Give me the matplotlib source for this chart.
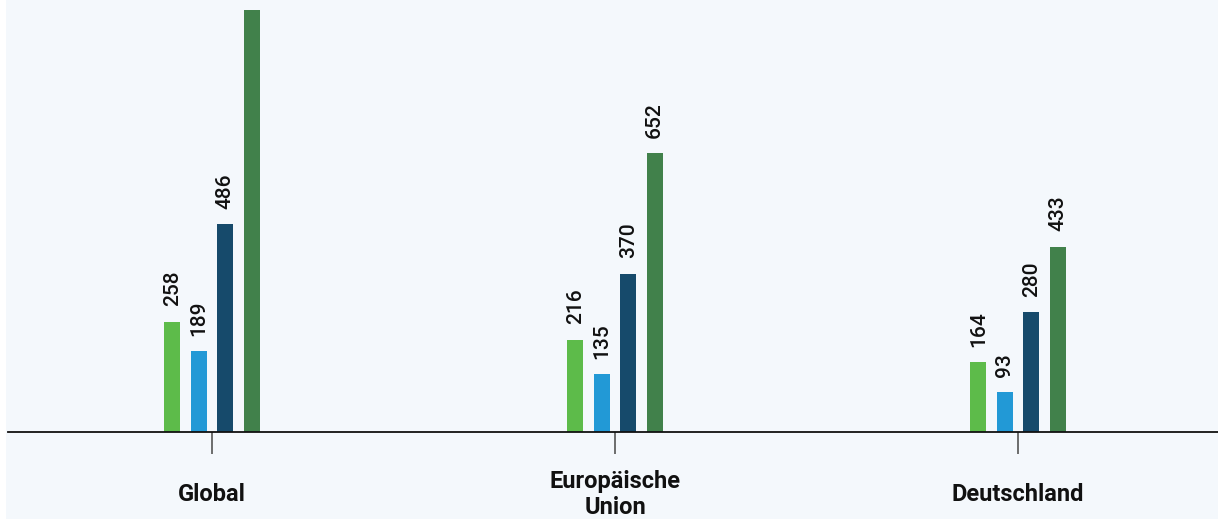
import matplotlib
matplotlib.use("Agg")
import matplotlib.pyplot as plt
import numpy as np
from matplotlib.patches import Rectangle

plt.rcParams['font.family'] = ['Roboto', 'DejaVu Sans']

categories = ["Global", "Europäische\nUnion", "Deutschland"]
series1 = [258, 216, 164]
series2 = [189, 135, 93]
series3 = [486, 370, 280]
series4 = [1000, 652, 433]   # Global value is cut off at the top of the chart
series = [series1, series2, series3, series4]
colors = ["#5DBB4A", "#2299D6", "#164A6B", "#41814B"]

bg = "#F4F8FC"
fig = plt.figure(figsize=(12.18, 5.19), dpi=100, facecolor=bg)
fig.patches.append(Rectangle((0, 0), 6 / 1218, 1, transform=fig.transFigure,
                             facecolor="white", edgecolor="none", zorder=0))
ax = fig.add_axes([8 / 1218, (519 - 432) / 519, 1210 / 1218, 422 / 519])
ax.set_facecolor(bg)

x = np.arange(len(categories))
step = 0.0657
width = 0.040
for i, (vals, c) in enumerate(zip(series, colors)):
    off = (i - 1.5) * step
    ax.bar(x + off, vals, width=width, color=c, zorder=2)
    for xi, v in zip(x, vals):
        t = ax.annotate(str(v), (xi + off, v), xytext=(0, 11), textcoords="offset points",
                        rotation=90, ha="center", va="bottom", fontsize=15,
                        fontweight="medium", color="#111111", annotation_clip=True)
        t.set_clip_on(True)

ax.set_xlim(-0.506, 2.496)
ax.set_ylim(0, 986)
ax.set_yticks([])
for s in ["top", "right", "left"]:
    ax.spines[s].set_visible(False)
ax.spines["bottom"].set_color("#111111")
ax.spines["bottom"].set_linewidth(1.3)
ax.set_xticks(x)
ax.set_xticklabels(categories, fontsize=17, fontweight="bold", color="#111111",
                   linespacing=1.15)
ax.tick_params(axis="x", length=16, width=1.2, color="#555555", pad=29)
for lab in ax.get_xticklabels():
    lab.set_verticalalignment("center")

fig.savefig("out.png", dpi=100, facecolor=bg)
